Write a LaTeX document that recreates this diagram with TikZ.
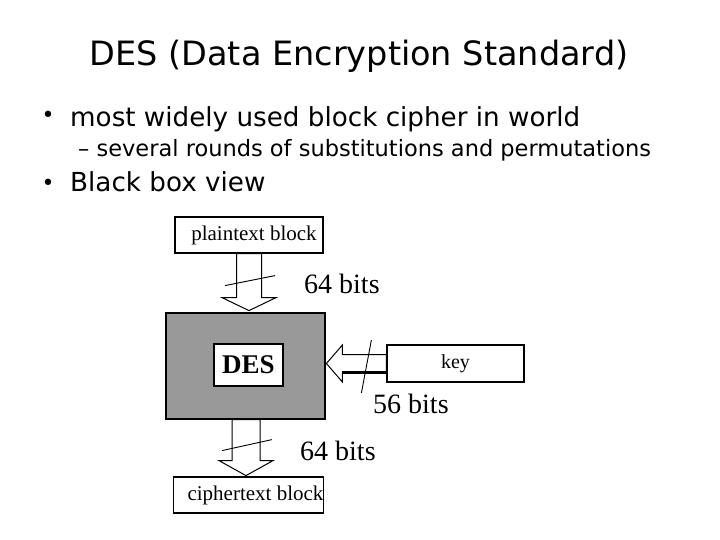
\documentclass[tikz,border=0pt]{standalone}
\usepackage{fontspec}
\setmainfont{Liberation Serif}
\newfontfamily\slidefont{DejaVu Sans}
\usetikzlibrary{calc}

\tikzset{
    blockbox/.style={draw, line width=1.2pt, fill=white, inner sep=0pt,
        font=\fontsize{21}{23}\selectfont},
    fatarrow/.style={draw, line width=1pt, fill=white, line join=miter},
    bitslabel/.style={inner sep=0pt, anchor=base west, font=\fontsize{28}{30}\selectfont},
    slidetext/.style={inner sep=0pt, anchor=base west},
    slidedot/.style={inner sep=0pt, font=\slidefont\fontsize{22}{24}\selectfont}
}

\begin{document}
\begin{tikzpicture}[x=1pt, y=-1pt]
        \useasboundingbox (0,0) rectangle (720,540);

        % slide text
        \node[inner sep=0pt, anchor=base, font=\slidefont\fontsize{33.5}{36}\selectfont] (title) at (359,66) {DES (Data Encryption Standard)};
        \node[slidedot] (dot1) at (48,117) {•};
        \node[slidetext, font=\slidefont\fontsize{26.2}{28}\selectfont] (item1) at (70,127) {most widely used block cipher in world};
        \node[slidetext, font=\slidefont\fontsize{22.5}{25}\selectfont] (sub1) at (78,157) {– several rounds of substitutions and permutations};
        \node[slidedot] (dot2) at (48,185) {•};
        \node[slidetext, font=\slidefont\fontsize{26.2}{28}\selectfont] (item2) at (70,192) {Black box view};

        % boxes
        \node[blockbox, minimum width=148, minimum height=36] (plain) at (249,235) {\hspace*{10pt}plaintext block};
        \node[blockbox, fill=black!40, minimum width=159, minimum height=106] (des) at (245.5,366) {};
        \node[blockbox, minimum width=69, minimum height=42, font=\fontsize{27}{29}\selectfont\bfseries] (desin) at (248.5,365) {DES};
        \node[blockbox, minimum width=137, minimum height=37, font=\fontsize{20}{22}\selectfont] (key) at (455.5,363.5) {key};
        \node[blockbox, minimum width=149, minimum height=36] (cipher) at (248.5,495) {\hspace*{14pt}ciphertext block};

        % arrows
        \draw[fatarrow] ([xshift=-12.5]plain.south) -- ++(0,44) -- ++(-14.5,0) -- ++(27,13) -- ++(27,-13) -- ++(-14.5,0) -- ++(0,-44) -- cycle;
        \draw[fatarrow] ([xshift=-13.5]des.south) -- ++(0,41) -- ++(-13,0) -- ++(27,15) -- ++(27,-15) -- ++(-13,0) -- ++(0,-41) -- cycle;
        \draw[fatarrow] ([yshift=9]key.west) -- ++(-44,0) -- ++(0,-9.5) -- ++(-16,18.5) -- ++(16,18.5) -- ++(0,-9.5) -- ++(44,0) -- cycle;
        \draw[line width=2.2pt] ([yshift=-9]key.west) -- ++(-44,0);

        % bit width marks
        \draw[line width=0.9pt] ([shift={(-24,32)}]plain.south) -- ++(50,-10);
        \draw[line width=0.9pt] ([shift={(-23.5,31)}]des.south) -- ++(50,-11);
        \draw[line width=0.9pt] ([shift={(-15,-23.5)}]key.west) -- ++(-10,53);

        \node[bitslabel] (bitsin) at (304,293) {64 bits};
        \node[bitslabel] (bitskey) at (373,413) {56 bits};
        \node[bitslabel] (bitsout) at (300,460) {64 bits};
\end{tikzpicture}
\end{document}
